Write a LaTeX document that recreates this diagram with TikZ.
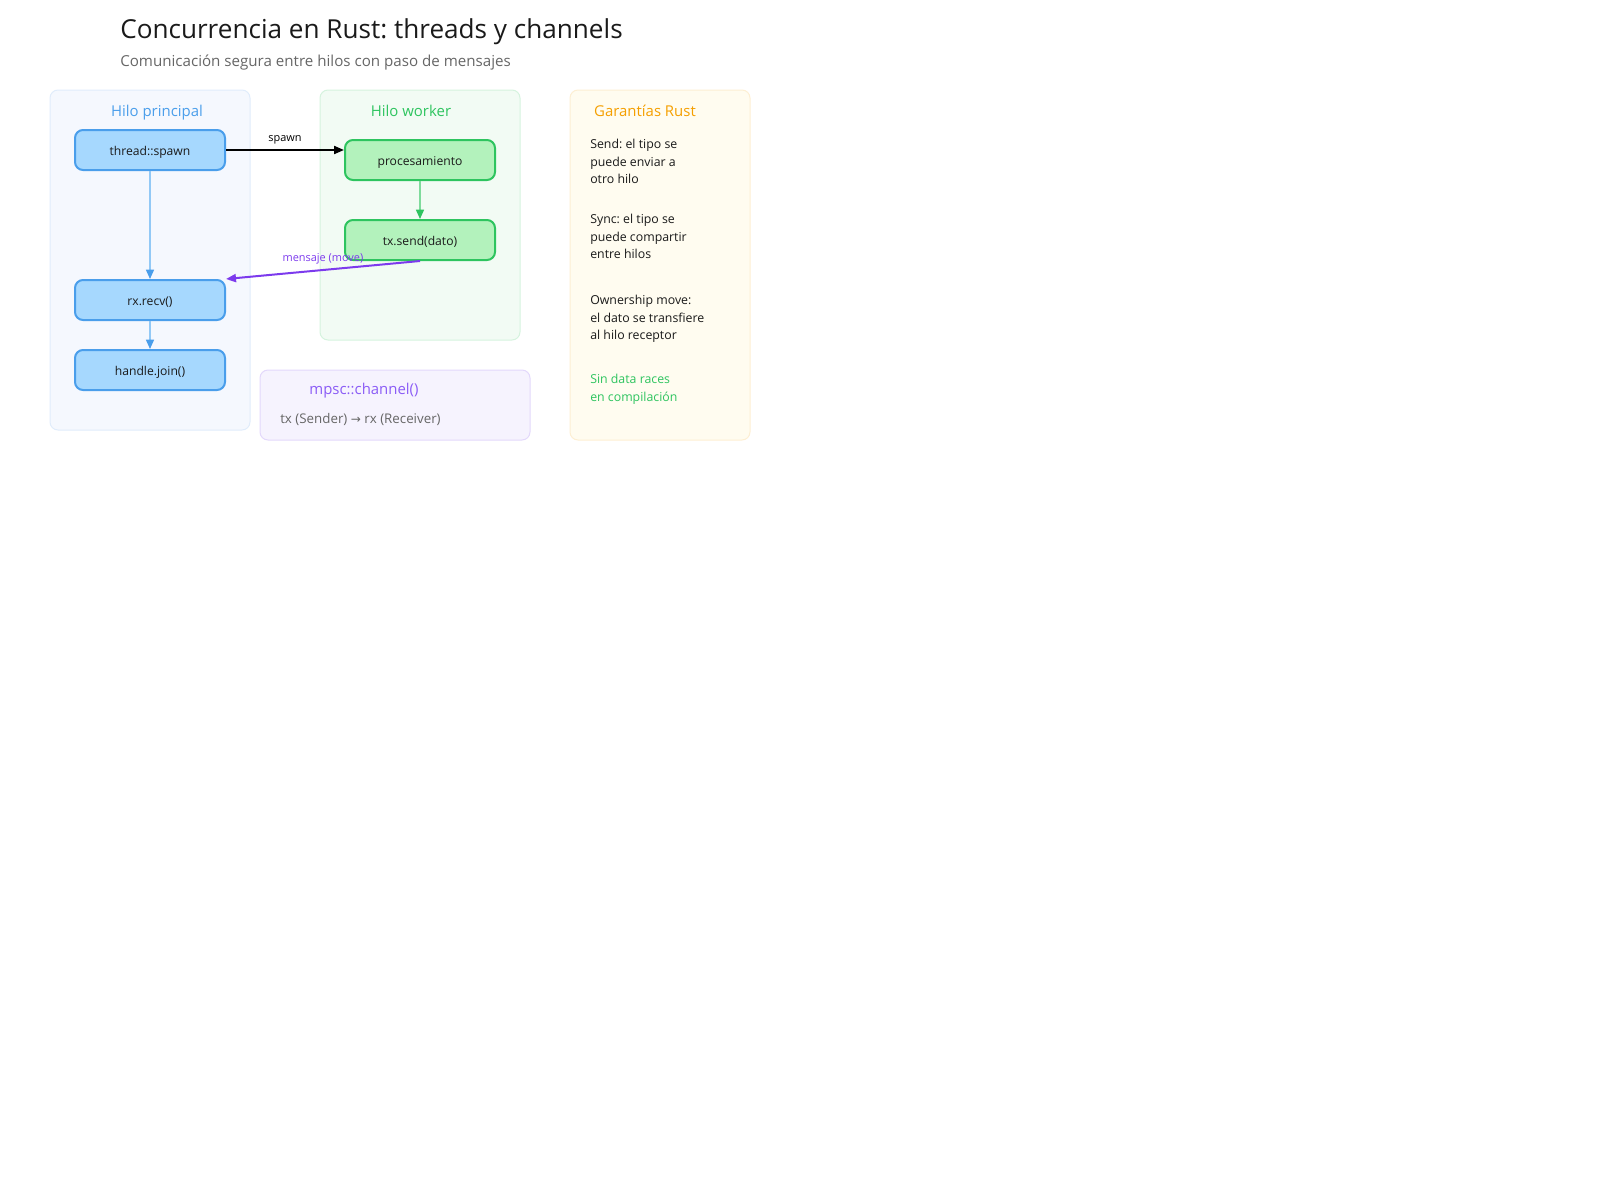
\documentclass[tikz,border=0pt]{standalone}
\usepackage{fontspec}
\setmainfont{Open Sans}
\newfontfamily\simbolos{DejaVu Sans}
\frenchspacing
\usetikzlibrary{arrows.meta, positioning}

\definecolor{azulRelleno}{HTML}{A6D8FE}
\definecolor{azulBorde}{HTML}{4A9EEB}
\definecolor{azulLinea}{HTML}{92C9F6}
\definecolor{verdeRelleno}{HTML}{B3F2BC}
\definecolor{verdeBorde}{HTML}{2EC45F}
\definecolor{verdeLinea}{HTML}{7FDB9C}
\definecolor{morado}{HTML}{7C3AED}
\definecolor{moradoTexto}{HTML}{8B5CF6}
\definecolor{naranja}{HTML}{F59F00}
\definecolor{textoOscuro}{HTML}{1A1A1A}
\definecolor{textoGris}{HTML}{666666}
% fondos de los paneles
\definecolor{fondoPrincipal}{HTML}{F5F8FE}
\definecolor{bordePrincipal}{HTML}{E0ECFB}
\definecolor{fondoWorker}{HTML}{F2FBF4}
\definecolor{bordeWorker}{HTML}{D5F3DE}
\definecolor{fondoCanal}{HTML}{F6F3FE}
\definecolor{bordeCanal}{HTML}{E3D8FB}
\definecolor{fondoGarantias}{HTML}{FFFCF0}
\definecolor{bordeGarantias}{HTML}{FDEFD3}

\begin{document}
\begin{tikzpicture}[
        x=0.75pt, y=-0.75pt,
        % Estilo para los paneles de fondo
        panel/.style={
            rectangle,
            rounded corners=6pt,
            line width=0.75pt,
            inner sep=0pt
        },
        % Estilo para los bloques de cada hilo
        block/.style={
            rectangle,
            rounded corners=6pt,
            line width=1.5pt,
            minimum width=112.5pt,
            minimum height=30pt,
            text height=8.3pt,
            text depth=0.6pt,
            font=\fontsize{9.1}{11}\selectfont,
            text=textoOscuro
        },
        bloqueAzul/.style={block, fill=azulRelleno, draw=azulBorde},
        bloqueVerde/.style={block, fill=verdeRelleno, draw=verdeBorde},
        % Estilo para los titulos de los paneles
        titulo/.style={
            text depth=0pt,
            font=\fontsize{11.2}{13}\selectfont
        },
        % Estilo para las notas de garantias
        nota/.style={
            anchor=north west,
            inner sep=0pt,
            align=left,
            font=\fontsize{9.25}{13.1}\selectfont,
            text=textoOscuro
        },
        % Estilo para las etiquetas de las flechas
        etiqueta/.style={
            font=\fontsize{8.2}{10}\selectfont
        },
        % Estilos para las flechas
        arrow/.style={
            line width=1.5pt,
            -{Triangle[length=7.5pt, width=6pt]}
        },
        flechaAzul/.style={
            line width=1.1pt, draw=azulLinea,
            -{Triangle[length=7pt, width=6pt, color=azulBorde]}
        },
        flechaVerde/.style={
            line width=1.1pt, draw=verdeLinea,
            -{Triangle[length=7pt, width=6pt, color=verdeBorde]}
        },
        flechaMorada/.style={
            line width=1.5pt, draw=morado,
            -{Triangle[length=7.5pt, width=6pt]}
        }
    ]

        \useasboundingbox (0,0) rectangle (1600,1200);

        % --- TITULOS ---
        \node[anchor=west, inner sep=0pt, text=textoOscuro,
              font=\fontsize{19.6}{24}\selectfont] (tituloGeneral) at (120,32)
              {Concurrencia en Rust: threads y channels};
        \node[anchor=west, inner sep=0pt, text=textoGris,
              font=\fontsize{11.35}{13}\selectfont] (subtitulo) at (120,62.5)
              {Comunicación segura entre hilos con paso de mensajes};

        % --- PANELES ---
        \node[panel, fill=fondoPrincipal, draw=bordePrincipal,
              minimum width=150pt, minimum height=255pt] (principal) at (150,260) {};
        \node[panel, fill=fondoWorker, draw=bordeWorker,
              minimum width=150pt, minimum height=187.5pt] (worker) at (420,215) {};
        \node[panel, fill=fondoCanal, draw=bordeCanal,
              minimum width=202.5pt, minimum height=52.5pt] (canal) at (395,405) {};
        \node[panel, fill=fondoGarantias, draw=bordeGarantias,
              minimum width=135pt, minimum height=262.5pt] (garantias) at (660,265) {};

        \node[titulo, text=azulBorde] (tituloPrincipal) at (157,111) {Hilo principal};
        \node[titulo, text=verdeBorde] (tituloWorker) at (411,111) {Hilo worker};
        \node[titulo, text=naranja] (tituloGarantias) at (645,111) {Garantías Rust};
        \node[titulo, text=moradoTexto] (tituloCanal) at (364,389) {mpsc::channel()};
        \node[anchor=west, inner sep=0pt, text=textoGris,
              font=\fontsize{10}{12}\selectfont] (tiposCanal) at (280,419)
              {tx (Sender) {\simbolos\fontsize{9}{11}\selectfont →} rx (Receiver)};

        % --- BLOQUES ---
        \node[bloqueAzul] (spawn) at (150,150) {thread::spawn};
        \node[bloqueAzul] (recv) at (150,300) {rx.recv()};
        \node[bloqueAzul] (join) at (150,370) {handle.join()};

        \node[bloqueVerde] (proc) at (420,160) {procesamiento};
        \node[bloqueVerde] (send) at (420,240) {tx.send(dato)};

        % --- NOTAS ---
        \node[nota] (notaSend) at (590,139) {Send: el tipo se\\puede enviar a\\otro hilo};
        \node[nota] (notaSync) at (590,214) {Sync: el tipo se\\puede compartir\\entre hilos};
        \node[nota] (notaMove) at (590,295) {Ownership move:\\el dato se transfiere\\al hilo receptor};
        \node[nota, text=verdeBorde] (notaRaces) at (590,374) {Sin data races\\en compilación};

        % --- CONEXIONES ---
        \draw[arrow] (spawn.east) -- node[etiqueta, above] {spawn} (proc.west |- spawn.east);
        \draw[flechaAzul] (spawn.south) -- (recv.north);
        \draw[flechaAzul] (recv.south) -- (join.north);
        \draw[flechaVerde] (proc.south) -- (send.north);
        \draw[flechaMorada] (send.south) -- node[etiqueta, text=morado, above, pos=0.5] {mensaje (move)} (recv.north east);

    \end{tikzpicture}
\end{document}
